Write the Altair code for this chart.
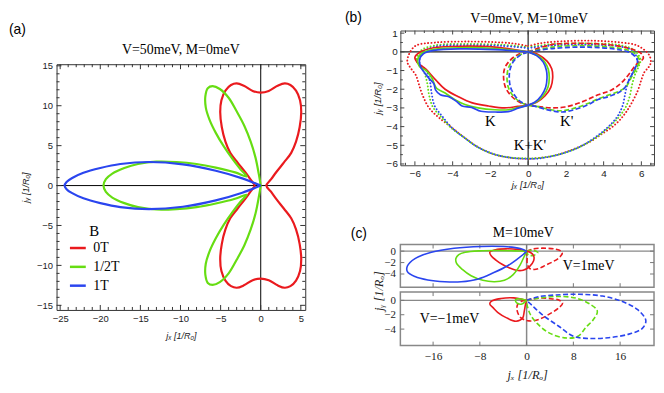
import altair as alt
import pandas as pd

RED = "#EA1A1E"
GREEN = "#66DD12"
BLUE = "#2A45EF"

# ---------------- panel (a): V=50meV, M=0meV ----------------
A_LABELS = ["0T", "1/2T", "1T"]
A_0T = [(-0.7, 0), (-1.3, 0.8), (-1.95, 1.7), (-2.9, 2.9), (-3.8, 4.1), (-4.4, 5.5), (-4.85, 7.3),
        (-5.05, 9.2), (-4.9, 10.7), (-4.4, 11.9), (-3.7, 12.6), (-3.0, 12.8), (-2.1, 12.5), (-1.0, 11.85),
        (0, 11.65), (1.0, 11.85), (2.1, 12.5), (3.0, 12.8), (3.7, 12.6), (4.4, 11.9), (4.9, 10.7),
        (5.05, 9.2), (4.85, 7.3), (4.4, 5.5), (3.8, 4.1), (2.9, 2.9), (1.95, 1.7), (1.3, 0.8), (0.7, 0),
        (1.3, -0.8), (1.95, -1.7), (2.9, -2.9), (3.8, -4.1), (4.4, -5.5), (4.85, -7.3), (5.05, -9.2),
        (4.9, -10.7), (4.4, -11.9), (3.7, -12.6), (3.0, -12.8), (2.1, -12.5), (1.0, -11.85), (0, -11.65),
        (-1.0, -11.85), (-2.1, -12.5), (-3.0, -12.8), (-3.7, -12.6), (-4.4, -11.9), (-4.9, -10.7),
        (-5.05, -9.2), (-4.85, -7.3), (-4.4, -5.5), (-3.8, -4.1), (-2.9, -2.9), (-1.95, -1.7), (-1.3, -0.8),
        (-0.7, 0)]
A_HALF = [(0, 0), (-0.25, 1.5), (-0.65, 3.5), (-1.25, 5.5), (-2.05, 7.5), (-3.0, 9.3), (-4.0, 11.0),
          (-5.1, 12.1), (-6.0, 12.45), (-6.6, 12.2), (-6.9, 11.2), (-6.85, 9.8), (-6.4, 8.3), (-5.6, 6.6),
          (-4.6, 4.9), (-3.5, 3.3), (-2.5, 2.0), (-1.75, 1.15), (-3.2, 1.65), (-5.6, 2.25), (-8.0, 2.7),
          (-10.5, 2.95), (-13.0, 3.0), (-15.3, 2.7), (-17.0, 2.2), (-18.5, 1.5), (-19.3, 0.8), (-19.6, 0),
          (-19.3, -0.8), (-18.5, -1.5), (-17.0, -2.2), (-15.3, -2.7), (-13.0, -3.0), (-10.5, -2.95),
          (-8.0, -2.7), (-5.6, -2.25), (-3.2, -1.65), (-1.75, -1.15), (-2.5, -2.0), (-3.5, -3.3),
          (-4.6, -4.9), (-5.6, -6.6), (-6.4, -8.3), (-6.85, -9.8), (-6.9, -11.2), (-6.6, -12.2),
          (-6.0, -12.45), (-5.1, -12.1), (-4.0, -11.0), (-3.0, -9.3), (-2.05, -7.5), (-1.25, -5.5),
          (-0.65, -3.5), (-0.25, -1.5), (0, 0)]
A_1T = [(0, 0), (-2.3, 0.9), (-5.6, 1.85), (-9.7, 2.65), (-13.9, 2.95), (-17.5, 2.7), (-20.0, 2.2),
        (-22.1, 1.6), (-23.5, 0.95), (-24.2, 0.45), (-24.45, 0), (-24.2, -0.45), (-23.5, -0.95),
        (-22.1, -1.6), (-20.0, -2.2), (-17.5, -2.7), (-13.9, -2.95), (-9.7, -2.65), (-5.6, -1.85),
        (-2.3, -0.9), (0, 0)]
A_XTICKS = [-25, -20, -15, -10, -5, 0, 5]
A_YTICKS = [-15, -10, -5, 0, 5, 10, 15]

# ---------------- panel (b): V=0meV, M=10meV ----------------
B_K_RED = [(0, 0), (-1.75, 0.25), (-3.5, 0.3), (-5.0, 0.22), (-5.7, 0.0), (-6.0, -0.3), (-5.85, -0.6),
           (-5.45, -0.9), (-4.9, -1.5), (-4.4, -2.0), (-3.7, -2.4), (-3.0, -2.72), (-2.1, -2.9),
           (-1.25, -3.0), (-0.55, -2.92), (0, -2.85), (0.45, -2.7), (0.9, -2.35), (1.2, -1.9), (1.3, -1.4),
           (1.25, -0.9), (1.0, -0.5), (0.55, -0.15), (0, 0)]
B_K_GREEN = [(0, 0), (-1.75, 0.18), (-3.5, 0.22), (-5.0, 0.14), (-5.6, -0.05), (-5.85, -0.4), (-5.75, -0.8),
             (-5.4, -1.0), (-5.1, -1.4), (-4.85, -1.95), (-4.4, -2.2), (-3.9, -2.55), (-3.35, -2.82),
             (-2.65, -3.0), (-1.75, -3.1), (-1.05, -3.1), (-0.5, -2.97), (0, -2.85), (0.4, -2.7),
             (0.8, -2.35), (1.05, -1.9), (1.12, -1.4), (1.07, -0.95), (0.88, -0.55), (0.5, -0.2), (0, 0)]
B_K_BLUE = [(0, 0), (-1.75, 0.12), (-3.5, 0.16), (-5.0, 0.08), (-5.55, -0.1), (-5.75, -0.4), (-5.7, -0.8),
            (-5.5, -1.1), (-5.25, -1.42), (-5.0, -1.7), (-4.9, -2.05), (-4.65, -2.3), (-4.2, -2.4),
            (-3.8, -2.65), (-3.5, -2.9), (-3.0, -2.97), (-2.5, -3.18), (-1.75, -3.22), (-1.05, -3.2),
            (-0.5, -3.0), (0, -2.85), (0.35, -2.7), (0.7, -2.35), (0.93, -1.9), (1.0, -1.4), (0.97, -1.0),
            (0.8, -0.55), (0.45, -0.2), (0, 0)]
B_KP_RED = [(0, 0), (1.2, 0.38), (2.3, 0.45), (4.05, 0.4), (5.3, 0.2), (6.0, -0.1), (6.1, -0.35),
            (5.75, -0.65), (5.3, -1.25), (4.9, -1.7), (4.4, -2.05), (3.7, -2.3), (2.8, -2.7), (1.95, -2.95),
            (1.25, -3.0), (0.55, -2.93), (0, -2.85), (-0.45, -2.7), (-0.9, -2.35), (-1.2, -1.9), (-1.3, -1.4),
            (-1.25, -0.9), (-1.0, -0.5), (-0.55, -0.15), (0, 0)]
B_KP_GREEN = [(0, 0), (1.4, 0.27), (3.2, 0.32), (4.9, 0.18), (5.6, -0.05), (5.9, -0.45), (5.75, -0.85),
              (5.5, -1.3), (5.2, -1.85), (4.8, -2.12), (4.3, -2.3), (3.75, -2.5), (3.2, -2.75), (2.5, -3.0),
              (1.8, -3.15), (1.1, -3.08), (0.45, -2.92), (0, -2.85), (-0.4, -2.7), (-0.8, -2.35),
              (-1.05, -1.9), (-1.12, -1.4), (-1.07, -0.95), (-0.88, -0.55), (-0.5, -0.2), (0, 0)]
B_KP_BLUE = [(0, 0), (1.4, 0.19), (3.2, 0.25), (4.9, 0.1), (5.5, -0.1), (5.8, -0.5), (5.65, -0.9),
             (5.4, -1.4), (5.1, -1.95), (4.75, -2.2), (4.25, -2.4), (3.7, -2.55), (3.2, -2.82), (2.5, -3.08),
             (1.8, -3.22), (1.1, -3.12), (0.4, -2.92), (0, -2.85), (-0.35, -2.7), (-0.7, -2.35),
             (-0.93, -1.9), (-1.0, -1.4), (-0.97, -1.0), (-0.8, -0.55), (-0.45, -0.2), (0, 0)]
B_SUM_RED = [(0, 0.3), (0.6, 0.45), (1.4, 0.54), (3.2, 0.6), (4.9, 0.5), (5.8, 0.33), (6.4, -0.15),
             (6.5, -0.55), (6.4, -0.8), (6.15, -1.1), (6.0, -1.5), (5.8, -2.1), (5.45, -2.8), (5.1, -3.35),
             (4.6, -3.9), (3.9, -4.4), (3.2, -4.85), (2.3, -5.25), (1.4, -5.55), (0.55, -5.68), (0, -5.72),
             (-0.9, -5.67), (-1.75, -5.5), (-2.65, -5.1), (-3.35, -4.6), (-4.05, -4.05), (-4.75, -3.5),
             (-5.25, -3.0), (-5.6, -2.3), (-5.8, -1.7), (-5.95, -1.25), (-6.2, -0.9), (-6.4, -0.55),
             (-6.3, -0.1), (-5.95, 0.33), (-4.9, 0.5), (-3.2, 0.55), (-1.4, 0.5), (-0.6, 0.42), (0, 0.3)]
B_SUM_GREEN = [(0, 0.25), (1.4, 0.42), (3.2, 0.45), (4.9, 0.35), (5.6, 0.1), (5.95, -0.4), (5.85, -0.8),
               (5.65, -1.25), (5.5, -1.8), (5.4, -2.3), (5.2, -2.9), (4.8, -3.5), (4.2, -4.1), (3.5, -4.65),
               (2.6, -5.15), (1.6, -5.5), (0.6, -5.68), (0, -5.7), (-0.9, -5.66), (-1.8, -5.48),
               (-2.7, -5.08), (-3.4, -4.58), (-4.1, -4.05), (-4.6, -3.5), (-5.05, -2.95), (-5.25, -2.3),
               (-5.35, -1.65), (-5.55, -1.0), (-5.9, -0.5), (-5.7, 0.05), (-4.9, 0.35), (-3.2, 0.42),
               (-1.4, 0.38), (0, 0.25)]
B_SUM_BLUE = [(0, 0.2), (1.4, 0.35), (3.2, 0.38), (4.9, 0.28), (5.55, 0.05), (5.8, -0.55), (5.55, -1.1),
              (5.3, -1.6), (5.15, -2.2), (5.0, -2.9), (4.7, -3.5), (4.15, -4.1), (3.45, -4.65), (2.6, -5.15),
              (1.6, -5.5), (0.6, -5.7), (0, -5.72), (-0.9, -5.67), (-1.8, -5.48), (-2.7, -5.08),
              (-3.4, -4.58), (-4.05, -4.05), (-4.55, -3.45), (-4.95, -2.9), (-5.1, -2.3), (-5.2, -1.6),
              (-5.4, -1.0), (-5.75, -0.6), (-5.6, -0.05), (-4.9, 0.28), (-3.2, 0.35), (-1.4, 0.32), (0, 0.2)]
B_XTICKS = [-6, -4, -2, 0, 2, 4, 6]
B_YTICKS = [1, 0, -1, -2, -3, -4, -5, -6]
B_TEXT = ["K", "K'", "K+K'"]
B_TEXT_X = [-2.0, 2.05, 0.1]
B_TEXT_Y = [-3.68, -3.68, -5.0]

# ---------------- panel (c): M=10meV, V=+1meV (top) / V=-1meV (bottom) ----------------
C1_RED_K = [(0, 0), (-1.5, 0.3), (-3.5, 0.4), (-5.3, 0.25), (-6.3, -0.2), (-6.0, -0.9), (-5.2, -1.6),
            (-4.2, -2.3), (-3.0, -2.9), (-1.8, -3.35), (-0.6, -3.35), (0.5, -2.7), (1.2, -1.7), (1.2, -0.8),
            (0.6, -0.2), (0, 0)]
C1_RED_KP = [(0, 0), (1.0, 0.35), (2.1, 0.5), (3.5, 0.5), (4.9, 0.35), (5.9, 0.0), (6.1, -0.4), (5.5, -1.2),
             (4.4, -1.9), (3.2, -2.5), (2.2, -3.0), (1.3, -3.2), (0.5, -3.0), (0.1, -2.2), (0.1, -1.0), (0, 0)]
C1_GREEN_K = [(0, 0), (-2, 0.05), (-5, 0.1), (-8, 0.05), (-10.5, -0.2), (-11.6, -0.6), (-12.1, -1.3),
              (-12.0, -2.1), (-11.0, -3.2), (-9.5, -4.3), (-7.5, -5.1), (-5.5, -5.35), (-3.8, -5.1),
              (-2.3, -4.1), (-1.1, -2.4), (-0.4, -0.9), (0, 0)]
C1_GREEN_KP = [(0, 0), (1.0, 0.15), (1.9, -0.25), (1.3, -0.7), (0.3, -0.7), (0, 0)]
C1_BLUE_K = [(0, 0), (-1.1, 0.47), (-3.9, 0.8), (-7.8, 0.82), (-12.4, 0.5), (-16.3, -0.2), (-19.1, -1.3),
             (-20.4, -2.6), (-20.4, -3.6), (-19.1, -4.45), (-16.9, -5.05), (-14.0, -5.35), (-11.2, -5.35),
             (-8.4, -4.9), (-5.6, -3.75), (-3.3, -2.6), (-1.6, -1.4), (-0.5, -0.5), (0, 0)]
C2_RED_K = [(0, 0), (-0.5, 0.1), (-2.2, 0.35), (-4.4, 0.25), (-6.0, -0.1), (-6.3, -0.5), (-5.7, -1.05),
            (-4.9, -1.7), (-3.5, -2.4), (-1.8, -2.9), (-0.7, -2.5), (-0.4, -1.5), (-0.2, -0.6), (0, 0)]
C2_RED_KP = [(0, 0), (1.0, 0.2), (2.6, 0.32), (4.5, 0.2), (5.5, 0.05), (6.15, -0.4), (5.5, -1.05),
             (3.8, -1.95), (2.1, -2.65), (0.4, -2.86), (-1.0, -2.4), (-1.6, -1.5), (-1.55, -0.6), (-0.8, -0.1),
             (0, 0)]
C2_GREEN_K = [(0, 0), (-0.9, 0.2), (-1.9, 0.1), (-1.7, -0.35), (-0.8, -0.5), (0, 0)]
C2_GREEN_KP = [(0, 0), (2.9, 0.4), (5.5, 0.55), (8.5, 0.3), (10.8, -0.5), (12.1, -1.5), (11.4, -2.7),
               (10.2, -3.7), (8.8, -5.0), (6.9, -5.25), (4.0, -4.6), (1.8, -3.2), (0.6, -1.9), (0, -0.3), (0, 0)]
C2_BLUE_KP = [(0, 0), (2, 0.5), (5, 0.75), (9, 0.85), (13, 0.6), (16.5, -0.2), (19, -1.3), (20.4, -2.8),
              (19.8, -3.9), (17.5, -4.7), (14, -5.2), (10.5, -5.3), (8, -5.0), (5.5, -3.6), (2.6, -1.95),
              (0.8, -0.6), (0, 0)]
C_XTICKS = [-16, -8, 0, 8, 16]
C_YTICKS = [0, -2, -4]

SANS = "Liberation Sans"
SERIF = "Liberation Serif"


def sc(dom):
    return alt.Scale(domain=dom, nice=False, zero=False)


def factories(xdom, ydom, xaxis, yaxis):
    def X(f):
        return alt.X(f"{f}:Q", scale=sc(xdom), axis=xaxis)

    def Y(f):
        return alt.Y(f"{f}:Q", scale=sc(ydom), axis=yaxis)
    return X, Y


def tick_layers(X, Y, xmaj, xmin, ymaj, ymin, w, h, lmaj, lmin, color, sw=1.0):
    out = []
    for vals, L in ((xmaj, lmaj), (xmin, lmin)):
        if not vals:
            continue
        m = alt.Chart(pd.DataFrame({"v": vals})).mark_rule(color=color, strokeWidth=sw)
        out.append(m.encode(x=X("v"), y=alt.value(h), y2=alt.value(h - L)))
        out.append(m.encode(x=X("v"), y=alt.value(0), y2=alt.value(L)))
    for vals, L in ((ymaj, lmaj), (ymin, lmin)):
        if not vals:
            continue
        m = alt.Chart(pd.DataFrame({"v": vals})).mark_rule(color=color, strokeWidth=sw)
        out.append(m.encode(y=Y("v"), x=alt.value(0), x2=alt.value(L)))
        out.append(m.encode(y=Y("v"), x=alt.value(w), x2=alt.value(w - L)))
    return out


def zero_lines(X, Y, color, sw):
    d = pd.DataFrame({"v": [0]})
    return [alt.Chart(d).mark_rule(color=color, strokeWidth=sw).encode(x=X("v")),
            alt.Chart(d).mark_rule(color=color, strokeWidth=sw).encode(y=Y("v"))]


def curve_df(items):
    rows = []
    for key, color, pts in items:
        for i, (x, y) in enumerate(pts):
            rows.append({"k": key, "c": color, "i": i, "x": x, "y": y})
    return pd.DataFrame(rows)


def curves(X, Y, items, sw, dash=None, cap="butt"):
    props = dict(strokeWidth=sw, interpolate="catmull-rom", clip=True, strokeCap=cap)
    if dash:
        props["strokeDash"] = dash
    return alt.Chart(curve_df(items)).mark_line(**props).encode(
        x=X("x"), y=Y("y"), order="i:Q", color=alt.Color("c:N", scale=None), detail="k:N")


def px_text(txt, x, y, **kw):
    return alt.Chart(pd.DataFrame({"t": [txt]})).mark_text(**kw).encode(
        text="t:N", x=alt.value(x), y=alt.value(y))


# ================= panel (a) =================
AW, AH = 251, 248
a_xaxis = alt.Axis(values=A_XTICKS, ticks=False, domain=False, grid=False, labelFont=SANS, labelFontSize=9.5,
                   labelColor="#222", labelPadding=4, title="jₓ [1/R₀]", titleFont=SANS, titleFontSize=9,
                   titleFontStyle="italic", titleFontWeight="normal", titleColor="#222", titlePadding=8)
a_yaxis = alt.Axis(values=A_YTICKS, ticks=False, domain=False, grid=False, labelFont=SANS, labelFontSize=9.5,
                   labelColor="#222", labelPadding=4, title="jᵧ [1/R₀]", titleFont=SANS, titleFontSize=9,
                   titleFontStyle="italic", titleFontWeight="normal", titleColor="#222", titlePadding=6)
AX, AY = factories([-25.45, 5.55], [-15.58, 15.2], a_xaxis, a_yaxis)

a_df = curve_df([("0T", RED, A_0T), ("1/2T", GREEN, A_HALF), ("1T", BLUE, A_1T)])
a_curves = alt.Chart(a_df).mark_line(strokeWidth=2.2, interpolate="catmull-rom", clip=True).encode(
    x=AX("x"), y=AY("y"), order="i:Q",
    color=alt.Color("k:N", scale=alt.Scale(domain=A_LABELS, range=[RED, GREEN, BLUE]),
                    legend=alt.Legend(orient="none", legendX=12, legendY=161, title="B",
                                      titleFont=SERIF, titleFontSize=15, titleFontWeight="normal",
                                      titleColor="black", titleAnchor="middle", titlePadding=0,
                                      labelFont=SERIF, labelFontSize=14, labelColor="black", labelOffset=6,
                                      symbolType="stroke", symbolSize=256, symbolStrokeWidth=2.5,
                                      rowPadding=2, padding=0)))

a_ticks = tick_layers(AX, AY, A_XTICKS, [v for v in range(-25, 6) if v % 5],
                      A_YTICKS, [v for v in range(-15, 16) if v % 5], AW, AH, 5, 3, "#333")
panel_a = alt.layer(
    *zero_lines(AX, AY, "black", 1), *a_ticks, a_curves,
    px_text("(a)", -48, -35, align="left", baseline="middle", font=SANS, fontSize=14, color="black"),
    px_text("V=50meV, M=0meV", AW / 2, -14, align="center", baseline="middle", font=SERIF, fontSize=14,
            color="black"),
).properties(width=AW, height=AH, view=alt.ViewBackground(stroke="#333", strokeWidth=1))

spacer = alt.Chart(pd.DataFrame({"v": [0]})).mark_point(opacity=0).encode(
    x=alt.value(0), y=alt.value(0)).properties(width=AW, height=34,
                                               view=alt.ViewBackground(stroke="transparent"))

# ================= panel (b) =================
BW, BH = 256, 136
b_xaxis = alt.Axis(values=B_XTICKS, ticks=False, domain=False, grid=False, labelFont=SANS, labelFontSize=10,
                   labelColor="#222", labelPadding=3, title="jₓ [1/R₀]", titleFont=SANS, titleFontSize=9.5,
                   titleFontStyle="italic", titleFontWeight="normal", titleColor="#222", titlePadding=1)
b_yaxis = alt.Axis(values=B_YTICKS, ticks=False, domain=False, grid=False, labelFont=SANS, labelFontSize=10,
                   labelColor="#222", labelPadding=3, title="jᵧ [1/R₀]", titleFont=SANS, titleFontSize=9.5,
                   titleFontStyle="italic", titleFontWeight="normal", titleColor="#222", titlePadding=4)
BX, BY = factories([-6.77, 6.67], [-6.07, 1.14], b_xaxis, b_yaxis)

b_ticks = tick_layers(BX, BY, B_XTICKS, [v / 2 for v in range(-13, 14) if v % 4],
                      B_YTICKS, [v / 2 for v in range(-11, 2) if v % 2], BW, BH, 4, 2.5, "#444")
b_solid = curves(BX, BY, [("kr", RED, B_K_RED), ("kg", GREEN, B_K_GREEN), ("kb", BLUE, B_K_BLUE)], 1.7)
b_dash = curves(BX, BY, [("pr", RED, B_KP_RED), ("pg", GREEN, B_KP_GREEN), ("pb", BLUE, B_KP_BLUE)], 1.7,
                dash=[5, 2.5])
b_dot = curves(BX, BY, [("sr", RED, B_SUM_RED), ("sg", GREEN, B_SUM_GREEN), ("sb", BLUE, B_SUM_BLUE)], 1.9,
               dash=[0.1, 3.3], cap="round")
b_text = alt.Chart(pd.DataFrame({"t": B_TEXT, "x": B_TEXT_X, "y": B_TEXT_Y})).mark_text(
    font=SERIF, fontSize=15, color="black", align="center", baseline="middle").encode(
    x=BX("x"), y=BY("y"), text="t:N")
panel_b = alt.layer(
    *zero_lines(BX, BY, "#222", 1.2), *b_ticks, b_dot, b_dash, b_solid, b_text,
    px_text("(b)", -56, -13, align="left", baseline="middle", font=SANS, fontSize=14, color="black"),
    px_text("V=0meV, M=10meV", 130, -12, align="center", baseline="middle", font=SERIF, fontSize=14,
            color="black"),
).properties(width=BW, height=BH, view=alt.ViewBackground(stroke="#444", strokeWidth=1))

# ================= panel (c) =================
CW, CH1, CH2 = 256, 43, 54
CXDOM, CYDOM = [-21.6, 21.8], [-6.3, 1.15]
c_yaxis = alt.Axis(values=C_YTICKS, ticks=False, domain=False, grid=False, labelFont=SERIF, labelFontSize=11,
                   labelColor="#222", labelPadding=5, title="")
c_xaxis = alt.Axis(values=C_XTICKS, ticks=False, domain=False, grid=False, labelFont=SERIF, labelFontSize=11.5,
                   labelColor="#222", labelPadding=5, title="jₓ [1/Rₒ]", titleFont=SERIF, titleFontSize=12.5,
                   titleFontStyle="italic", titleFontWeight="normal", titleColor="#222", titlePadding=7)
C1X, C1Y = factories(CXDOM, CYDOM, None, c_yaxis)
C2X, C2Y = factories(CXDOM, CYDOM, c_xaxis, c_yaxis)

c1 = alt.layer(
    *zero_lines(C1X, C1Y, "#888", 1.5),
    *tick_layers(C1X, C1Y, C_XTICKS, [], C_YTICKS, [], CW, CH1, 4, 2, "#777"),
    curves(C1X, C1Y, [("r", RED, C1_RED_KP), ("g", GREEN, C1_GREEN_KP)], 1.6, dash=[5, 2.5]),
    curves(C1X, C1Y, [("r", RED, C1_RED_K), ("g", GREEN, C1_GREEN_K), ("b", BLUE, C1_BLUE_K)], 1.6),
    alt.Chart(pd.DataFrame({"t": ["V=1meV"], "x": [10.6], "y": [-2.6]})).mark_text(
        font=SERIF, fontSize=14, color="black").encode(x=C1X("x"), y=C1Y("y"), text="t:N"),
    px_text("(c)", -50, -11, align="left", baseline="middle", font=SANS, fontSize=14, color="black"),
    px_text("M=10meV", 124, -12, align="center", baseline="middle", font=SERIF, fontSize=14, color="black"),
    px_text("jᵧ [1/Rₒ]", -22, 47, align="center", baseline="middle", angle=270, font=SERIF, fontSize=12.5,
            fontStyle="italic", color="#222"),
).properties(width=CW, height=CH1, view=alt.ViewBackground(stroke="#888", strokeWidth=1.5))

c2 = alt.layer(
    *zero_lines(C2X, C2Y, "#888", 1.5),
    *tick_layers(C2X, C2Y, C_XTICKS, [], C_YTICKS, [], CW, CH2, 4, 2, "#777"),
    curves(C2X, C2Y, [("r", RED, C2_RED_KP), ("g", GREEN, C2_GREEN_KP), ("b", BLUE, C2_BLUE_KP)], 1.6,
           dash=[5, 2.5]),
    curves(C2X, C2Y, [("r", RED, C2_RED_K), ("g", GREEN, C2_GREEN_K)], 1.6),
    alt.Chart(pd.DataFrame({"t": ["V=−1meV"], "x": [-13.2], "y": [-2.6]})).mark_text(
        font=SERIF, fontSize=14, color="black").encode(x=C2X("x"), y=C2Y("y"), text="t:N"),
).properties(width=CW, height=CH2, view=alt.ViewBackground(stroke="#888", strokeWidth=1.5))

left = alt.vconcat(spacer, panel_a, spacing=0, bounds="flush").resolve_scale(color="independent")
c_col = alt.vconcat(c1, c2, spacing=5, bounds="flush").resolve_scale(color="independent")
right = alt.vconcat(panel_b, c_col, spacing=80, bounds="flush").resolve_scale(color="independent")
chart = alt.hconcat(left, right, spacing=38).resolve_scale(color="independent").properties(
    padding=0).configure(background="white")

chart.save("out.html", embed_options={"renderer": "svg", "actions": False})
